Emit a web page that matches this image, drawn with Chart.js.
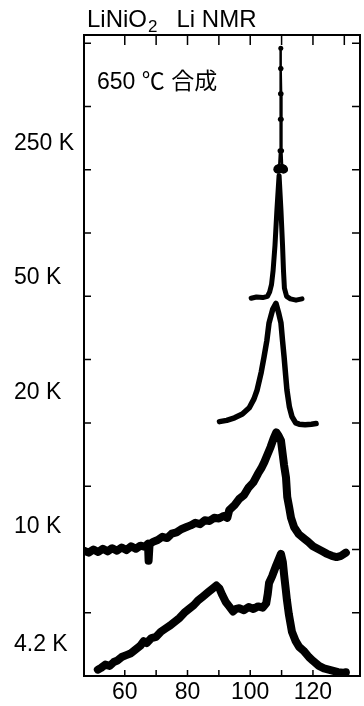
<!DOCTYPE html>
<html lang="ja">
<head>
<meta charset="UTF-8">
<title>LiNiO2 Li NMR</title>
<script src="https://cdn.jsdelivr.net/npm/chart.js"></script>
<style>
  html, body { margin: 0; padding: 0; background: #fff; }
</style>
</head>
<body>
<canvas id="nmr" width="364" height="706"></canvas>
<script>
// traces are stacked: each one sits on its own baseline offset
const temps = ['250 K', '50 K', '20 K', '10 K', '4.2 K'];
const offsets = [8, 6, 4, 2, 0];
const xTicks = [60, 70, 80, 90, 100, 110, 120, 130];
const yTicks = [1, 2, 3, 4, 5, 6, 7, 8, 9, 10];

const shift250 = [108.4, 108.8, 109.2, 109.5, 109.6, 109.65, 109.7, 109.75, 109.8, 109.85, 109.9, 110.0, 110.2, 110.6, 111.2];
const sig250   = [8.00, 8.01, 8.02, 8.30, 8.80, 9.20, 9.60, 9.92, 9.60, 9.20, 8.80, 8.30, 8.02, 8.01, 8.00];

const shift50 = [100.3, 102.0, 104.0, 105.5, 106.2, 106.8, 107.3, 107.9, 108.5, 109.2, 109.8, 110.3, 110.6, 110.9, 111.6, 112.8, 114.6, 116.5];
const sig50   = [5.97, 5.99, 5.98, 6.00, 6.07, 6.19, 6.41, 6.81, 7.36, 7.91, 7.36, 6.81, 6.41, 6.13, 6.00, 5.96, 5.94, 5.96];

const shift20 = [90.2, 92.5, 95.0, 97.5, 99.7, 101.2, 102.2, 103.5, 104.4, 105.3, 106.0, 107.2, 108.2, 109.0, 109.8, 110.3, 110.8, 111.3, 111.7, 112.5, 113.3, 114.5, 115.6, 117.5, 119.5, 121.0];
const sig20   = [4.02, 4.04, 4.08, 4.14, 4.24, 4.38, 4.52, 4.80, 5.04, 5.30, 5.58, 5.80, 5.89, 5.75, 5.58, 5.30, 5.04, 4.75, 4.52, 4.25, 4.10, 4.00, 3.98, 3.97, 3.98, 3.99];

const shift10 = [47.0, 48.5, 50.0, 51.5, 53.0, 54.5, 56.0, 57.5, 59.0, 60.5, 62.0, 63.5, 65.0, 66.5, 67.4, 67.6, 67.9, 69.0, 70.5, 72.0, 73.5, 75.0, 76.5, 78.0, 79.5, 81.0, 82.5, 84.0, 85.5, 87.0, 88.5, 90.0, 91.5, 92.7, 93.3, 95.0, 96.5, 98.0, 99.5, 101.0, 102.5, 103.5, 104.5, 105.5, 106.5, 107.5, 108.3, 109.0, 109.8, 110.8, 111.4, 111.8, 112.4, 113.0, 114.0, 115.5, 117.0, 118.5, 120.0, 121.5, 123.0, 124.5, 126.0, 127.5, 129.0, 130.5];
const sig10   = [1.98, 1.95, 2.00, 1.96, 2.01, 1.97, 2.02, 1.98, 2.03, 1.99, 2.05, 2.01, 2.06, 2.04, 2.09, 1.82, 2.08, 2.12, 2.15, 2.20, 2.18, 2.25, 2.27, 2.32, 2.35, 2.38, 2.42, 2.40, 2.46, 2.45, 2.50, 2.49, 2.53, 2.50, 2.62, 2.70, 2.80, 2.86, 2.98, 3.06, 3.20, 3.28, 3.38, 3.50, 3.62, 3.76, 3.85, 3.80, 3.72, 3.33, 3.14, 2.83, 2.67, 2.50, 2.35, 2.24, 2.18, 2.12, 2.05, 2.01, 1.97, 1.93, 1.90, 1.88, 1.90, 1.95];

const shift4 = [51.4, 52.5, 53.8, 55.2, 56.5, 57.5, 59.0, 60.5, 62.0, 63.5, 65.0, 66.0, 67.0, 68.5, 70.0, 71.5, 73.0, 74.5, 76.0, 77.5, 79.0, 80.5, 82.0, 83.5, 85.0, 86.5, 88.0, 89.2, 90.2, 91.1, 92.2, 93.3, 94.5, 95.5, 96.5, 98.0, 99.5, 101.0, 102.5, 104.0, 105.1, 105.6, 106.0, 107.0, 108.3, 109.8, 110.4, 110.8, 111.3, 111.7, 112.3, 113.3, 114.5, 115.6, 117.0, 118.7, 120.0, 121.9, 123.5, 125.0, 126.5, 128.0, 129.5, 130.5];
const sig4   = [0.10, 0.13, 0.18, 0.16, 0.22, 0.24, 0.30, 0.33, 0.36, 0.42, 0.48, 0.55, 0.52, 0.60, 0.62, 0.70, 0.75, 0.80, 0.86, 0.92, 1.00, 1.06, 1.12, 1.20, 1.26, 1.32, 1.38, 1.43, 1.38, 1.28, 1.17, 1.10, 1.02, 1.06, 1.07, 1.04, 1.09, 1.06, 1.10, 1.08, 1.15, 1.30, 1.47, 1.58, 1.75, 1.93, 1.80, 1.60, 1.38, 1.20, 0.98, 0.70, 0.55, 0.46, 0.40, 0.30, 0.24, 0.16, 0.12, 0.10, 0.08, 0.06, 0.05, 0.06];

const toPts = (xs, ys) => xs.map((v, i) => ({ x: v, y: ys[i] }));

// the 250 K line is dotted, with a heavy blob at its foot
const dot250 = c => (c.raw && c.raw.y < 8.05 && c.raw.x > 108.7 && c.raw.x < 110.7 ? 4.5 : 2.5);

const traces = [
  { data: toPts(shift250, sig250), w: 2.5, r: dot250 },
  { data: toPts(shift50, sig50), w: 5, r: 0 },
  { data: toPts(shift20, sig20), w: 5.5, r: 0 },
  { data: toPts(shift10, sig10), w: 8, r: 0 },
  { data: toPts(shift4, sig4), w: 8, r: 0 }
];

// label heights relative to each baseline
const labelLift = [0.42, 0.30, 0.47, 0.36, 0.49];
const FONT = '"Liberation Sans", Arial, "Noto Sans CJK JP", sans-serif';

const frame = {
  id: 'frame',
  afterDraw(chart) {
    const { ctx, chartArea: a, scales: { x, y } } = chart;
    ctx.save();
    ctx.strokeStyle = '#000';
    ctx.fillStyle = '#000';
    ctx.lineWidth = 2;
    ctx.strokeRect(a.left, a.top, a.right - a.left, a.bottom - a.top);
    ctx.lineWidth = 1.5;
    ctx.beginPath();
    x.ticks.forEach(t => {
      const px = x.getPixelForValue(t.value);
      ctx.moveTo(px, a.bottom); ctx.lineTo(px, a.bottom - 6);
      ctx.moveTo(px, a.top); ctx.lineTo(px, a.top + 10);
    });
    y.ticks.forEach(t => {
      const py = y.getPixelForValue(t.value);
      ctx.moveTo(a.left, py); ctx.lineTo(a.left + 7, py);
      ctx.moveTo(a.right, py); ctx.lineTo(a.right - 8, py);
    });
    ctx.stroke();

    ctx.textBaseline = 'middle';
    ctx.textAlign = 'left';
    ctx.font = '23px ' + FONT;
    temps.forEach((t, i) => {
      ctx.fillText(t, 14, y.getPixelForValue(offsets[i] + labelLift[i]));
    });

    // title with subscript
    ctx.textBaseline = 'alphabetic';
    ctx.font = '24px ' + FONT;
    let tx = 87;
    ctx.fillText('LiNiO', tx, 27);
    tx += ctx.measureText('LiNiO').width;
    ctx.font = '17px ' + FONT;
    ctx.fillText('2', tx + 1, 32);
    tx += ctx.measureText('2').width + 20;
    ctx.font = '24px ' + FONT;
    ctx.fillText('Li NMR', tx, 27);

    ctx.font = '23px ' + FONT;
    ctx.fillText('650 ℃ 合成', a.left + 13, a.top + 54);
    ctx.restore();
  }
};

new Chart(document.getElementById('nmr'), {
  type: 'line',
  data: {
    datasets: traces.map((t, i) => ({
      label: temps[i],
      data: t.data,
      borderColor: '#000',
      backgroundColor: '#000',
      borderWidth: t.w,
      pointRadius: t.r,
      pointBorderWidth: 0,
      borderCapStyle: 'round',
      borderJoinStyle: 'round',
      tension: 0,
      fill: false
    }))
  },
  options: {
    responsive: false,
    animation: false,
    layout: { padding: { top: 35, right: 2, left: 0, bottom: 0 } },
    plugins: { legend: { display: false }, tooltip: { enabled: false }, title: { display: false } },
    scales: {
      x: {
        type: 'linear',
        min: 47,
        max: 135,
        grid: { display: false, drawTicks: false },
        border: { display: false },
        afterBuildTicks: s => { s.ticks = xTicks.map(v => ({ value: v })); },
        afterFit: s => { s.height = 30; },
        ticks: {
          autoSkip: false,
          maxRotation: 0,
          padding: 3,
          color: '#000',
          font: { family: FONT, size: 23 },
          callback: v => (v % 20 === 0 ? v : '')
        }
      },
      y: {
        type: 'linear',
        min: 0,
        max: 10.13,
        grid: { display: false, drawTicks: false },
        border: { display: false },
        afterBuildTicks: s => { s.ticks = yTicks.map(v => ({ value: v })); },
        afterFit: s => { s.width = 84; },
        ticks: { display: false }
      }
    }
  },
  plugins: [frame]
});
</script>
</body>
</html>
